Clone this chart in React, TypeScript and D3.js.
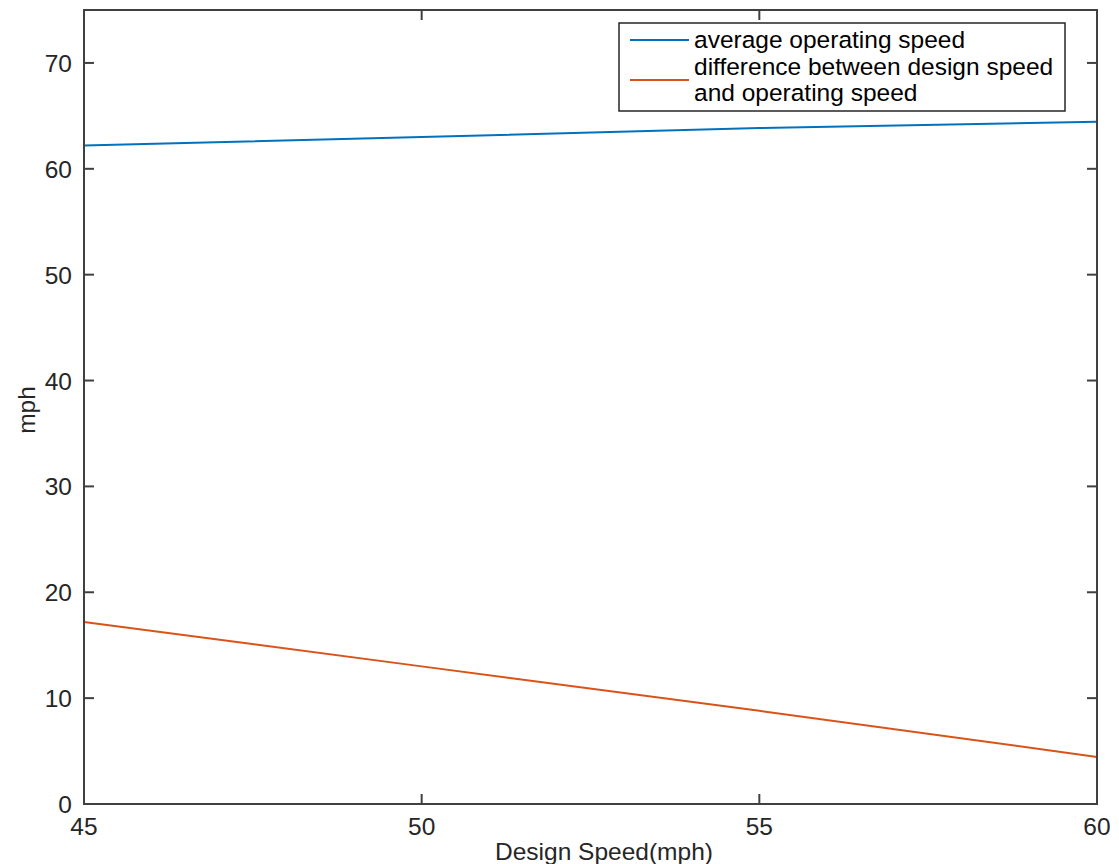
import React from "react";
import * as d3 from "d3";

const designSpeed = [45, 50, 55, 60];
const avgOperatingSpeed = [62.2, 63.0, 63.85, 64.45];
const speedDifference = [17.2, 13.0, 8.8, 4.45];
const xTicks = [45, 50, 55, 60];
const yTicks = [0, 10, 20, 30, 40, 50, 60, 70];
const seriesNames = ["average operating speed", "difference between design speed", "and operating speed"];

export default function App() {
  const W = 1119, H = 864;
  const m = { left: 84, top: 10, right: 1097, bottom: 804 };
  const x = d3.scaleLinear().domain([45, 60]).range([m.left, m.right]);
  const y = d3.scaleLinear().domain([0, 75]).range([m.bottom, m.top]);
  const line = d3.line<number>().x((_, i) => x(designSpeed[i])).y((d) => y(d));
  const axisColor = "#404040";
  const font = "'Liberation Sans', Arial, Helvetica, sans-serif";
  const tl = 10;
  const fs = 24.5;
  return (
    <svg width={W} height={H} style={{ position: "absolute", left: 0, top: 0, background: "#fff" }} fontFamily={font}>
      <rect x={0} y={0} width={W} height={H} fill="#fff" />
      <path d={line(avgOperatingSpeed) || ""} fill="none" stroke="#0072BD" strokeWidth={2} />
      <path d={line(speedDifference) || ""} fill="none" stroke="#D95319" strokeWidth={2} />
      <rect x={m.left} y={m.top} width={m.right - m.left} height={m.bottom - m.top} fill="none" stroke={axisColor} strokeWidth={2} />
      {xTicks.map((t) => (
        <g key={"x" + t}>
          <line x1={x(t)} x2={x(t)} y1={m.bottom} y2={m.bottom - tl} stroke={axisColor} strokeWidth={2} />
          <line x1={x(t)} x2={x(t)} y1={m.top} y2={m.top + tl} stroke={axisColor} strokeWidth={2} />
          <text x={x(t)} y={m.bottom + 31} textAnchor="middle" fontSize={fs} fill="#262626">{t}</text>
        </g>
      ))}
      {yTicks.map((t) => (
        <g key={"y" + t}>
          <line x1={m.left} x2={m.left + tl} y1={y(t)} y2={y(t)} stroke={axisColor} strokeWidth={2} />
          <line x1={m.right} x2={m.right - tl} y1={y(t)} y2={y(t)} stroke={axisColor} strokeWidth={2} />
          <text x={m.left - 12} y={y(t) + 9} textAnchor="end" fontSize={fs} fill="#262626">{t}</text>
        </g>
      ))}
      <text x={604} y={860} textAnchor="middle" fontSize={fs} fill="#262626">Design Speed(mph)</text>
      <text transform={`translate(35,${410}) rotate(-90)`} textAnchor="middle" fontSize={fs} fill="#262626">mph</text>
      <g>
        <rect x={619} y={23} width={446} height={88} fill="#fff" stroke="#262626" strokeWidth={1.5} />
        <line x1={630} x2={689} y1={40} y2={40} stroke="#0072BD" strokeWidth={2} />
        <line x1={630} x2={689} y1={80} y2={80} stroke="#D95319" strokeWidth={2} />
        <text x={694} y={48} fontSize={fs} fill="#000">{seriesNames[0]}</text>
        <text x={694} y={74.5} fontSize={fs} fill="#000">{seriesNames[1]}</text>
        <text x={694} y={101} fontSize={fs} fill="#000">{seriesNames[2]}</text>
      </g>
    </svg>
  );
}
